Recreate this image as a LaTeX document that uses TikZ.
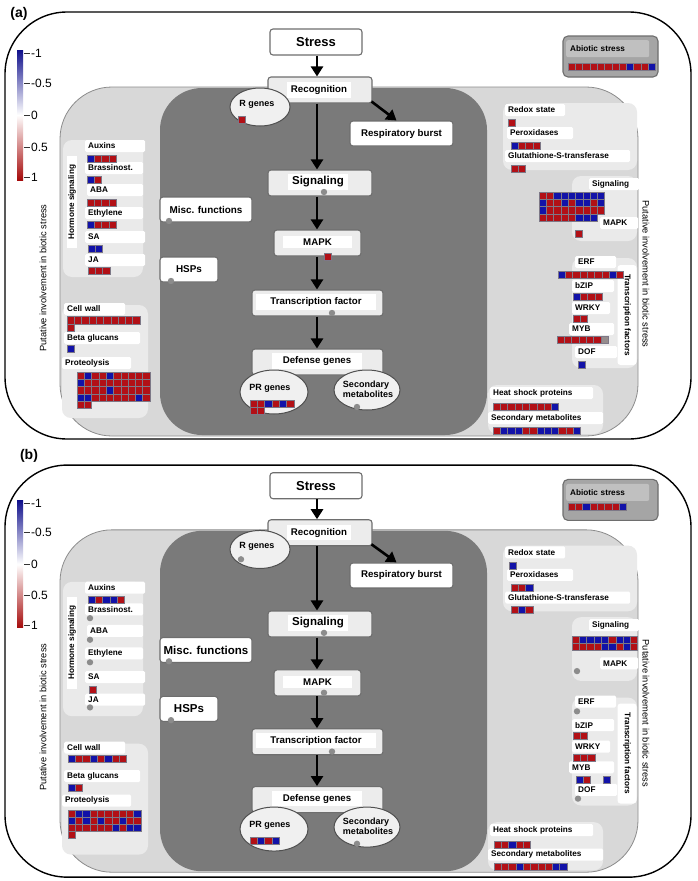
\documentclass[tikz,border=0pt]{standalone}
\usepackage{fontspec}
\setmainfont{Liberation Sans}
\usetikzlibrary{arrows.meta,shapes.geometric}

\definecolor{hr}{RGB}{178,16,22}
\definecolor{hb}{RGB}{18,18,168}
\definecolor{hg}{RGB}{150,140,140}
\definecolor{cellline}{RGB}{125,120,135}
\definecolor{dotgray}{RGB}{140,140,140}
\definecolor{zonelight}{RGB}{216,216,216}
\definecolor{zoneline}{RGB}{140,140,140}
\definecolor{zonedark}{RGB}{122,122,122}
\definecolor{panelfill}{RGB}{234,234,234}
\definecolor{boxfill}{RGB}{236,236,236}
\definecolor{boxline}{RGB}{110,110,110}
\definecolor{ovalfill}{RGB}{240,240,240}
\definecolor{ovalline}{RGB}{80,80,80}
\definecolor{abiofill}{RGB}{165,165,165}
\definecolor{abiostrip}{RGB}{192,192,192}
\definecolor{legblue}{RGB}{16,16,140}
\definecolor{legred}{RGB}{165,10,10}

\newcommand{\labfont}{\fontsize{8.2}{9}\selectfont\bfseries}
\newcommand{\flowfont}{\fontsize{9.7}{11}\selectfont\bfseries}
\newcommand{\sigfont}{\fontsize{11.5}{13}\selectfont\bfseries}
\newcommand{\stressfont}{\fontsize{13}{15}\selectfont\bfseries}
\newcommand{\ovalfont}{\fontsize{9}{10}\selectfont\bfseries}
\newcommand{\sidefont}{\fontsize{9.3}{11}\selectfont}
\newcommand{\legfont}{\fontsize{12}{14}\selectfont}

% one row of heat map cells: left x, top y, colours
\newcommand{\hcells}[3]{%
  \foreach \hc [count=\i from 0] in {#3}
    \filldraw[cell, fill=\hc] ({#1+\i*7.3},#2) rectangle +(7.3,7.3);}
% grey dot for a bin without data
\newcommand{\gdot}[2]{\fill[dotgray] (#1,#2) circle (3.2);}

\begin{document}
\begin{tikzpicture}[x=1pt, y=-1pt,
    outerbox/.style={draw=black, line width=1.4pt, fill=white, rounded corners=62pt},
    lightzone/.style={draw=zoneline, fill=zonelight, line width=0.8pt, rounded corners=52pt},
    darkzone/.style={fill=zonedark, rounded corners=42pt},
    subpanel/.style={fill=panelfill, rounded corners=9pt},
    flowbox/.style={draw=boxline, fill=boxfill, line width=1.1pt, rounded corners=3pt, inner sep=0pt},
    whitebox/.style={flowbox, fill=white, font=\flowfont},
    flowtag/.style={fill=white, font=\flowfont, inner xsep=4pt, inner ysep=3pt},
    oval/.style={ellipse, draw=ovalline, fill=ovalfill, line width=1pt, inner sep=0pt},
    ovaltxt/.style={font=\ovalfont, inner sep=0pt, align=left},
    tag/.style={fill=white, rounded corners=1.5pt, font=\labfont, inner xsep=3pt, inner ysep=0pt,
      minimum height=12pt, anchor=west, text width=#1pt, align=left},
    abiobox/.style={draw=boxline, fill=abiofill, line width=1.1pt, rounded corners=5pt, inner sep=0pt},
    abiotag/.style={fill=abiostrip, rounded corners=2pt, font=\labfont, inner xsep=4pt,
      minimum height=17pt, text width=75pt, align=left, anchor=north west},
    sidetxt/.style={font=\sidefont, rotate=#1},
    legtxt/.style={font=\legfont, anchor=west, inner sep=1pt},
    flow/.style={line width=2.6pt, -{Triangle[length=10pt, width=12pt]}},
    cell/.style={draw=cellline, line width=0.6pt}
  ]
\useasboundingbox (0,0) rectangle (697,881);

\node[font=\fontsize{14}{16}\selectfont\bfseries] (alab) at (19,14) {(a)};
\node[font=\fontsize{14}{16}\selectfont\bfseries] (blab) at (29,456) {(b)};

% common frame of both panels
\foreach \p/\dy/\sy/\top/\bot/\lg/\mf in {a/0/1/12/439/0/9.9, b/444.5/0.981/21/441/7/11.5} {
\begin{scope}[shift={(0,\dy)}, yscale=\sy]
  \draw[outerbox] (5,\top) rectangle (691,\bot);
  \draw[lightzone] (60,87) rectangle (638,436);
  \fill[darkzone] (160,88) rectangle (487,435);
  \fill[subpanel] (63,140) rectangle (143,277);
  \fill[subpanel] (62,305) rectangle (148,418);
  \fill[subpanel] (503,103) rectangle (637,170);
  \fill[subpanel] (572,176) rectangle (637,241);
  \fill[subpanel] (572,258) rectangle (637,368);
  \fill[subpanel] (488,385) rectangle (603,434);

  % legend
  \shade[top color=legblue, bottom color=legred, middle color=white] (17,50+\lg) rectangle (23,180+\lg);
  \foreach \v/\yy [count=\k] in {-1/53,-0.5/83,0/115,0.5/147,1/177} {
    \draw[line width=0.9pt, black!80] (24,\yy+\lg) -- (30,\yy+\lg);
    \node[legtxt] (\p leg\k) at (30,\yy+\lg) {\v};
  }

  \node[sidetxt=90] (\p lside) at (43,278) {Putative involvement in biotic stress};
  \node[sidetxt=-90] (\p rside) at (646,274) {Putative involvement in biotic stress};

  \node[abiobox, minimum width=95pt, minimum height=41pt] (\p abio) at (610.5,56.5) {};
  \node[abiotag] (\p abiot) at (566,40) {Abiotic stress};

  % pathway
  \coordinate (\p spine) at (317,0);
  \node[whitebox, minimum width=92pt, minimum height=26pt, font=\stressfont] (\p stress) at (316,42) {Stress};
  \node[flowbox, minimum width=104pt, minimum height=26pt] (\p recog) at (320,90) {};
  \node[flowtag] (\p recogt) at (319,90) {Recognition};
  \node[whitebox, minimum width=103pt, minimum height=25pt] (\p resp) at (401.5,133.5) {Respiratory burst};
  \node[flowbox, minimum width=104pt, minimum height=26pt] (\p signal) at (320,183) {};
  \node[flowtag, font=\sigfont] (\p signalt) at (318,182) {Signaling};
  \node[flowbox, minimum width=87pt, minimum height=26pt] (\p mapk) at (317.5,243) {};
  \node[flowtag, minimum width=69pt] (\p mapkt) at (317.5,242) {MAPK};
  \node[flowbox, minimum width=131pt, minimum height=26pt] (\p tf) at (317.5,303) {};
  \node[flowtag, minimum width=120pt] (\p tft) at (316,302) {Transcription factor};
  \node[flowbox, minimum width=131pt, minimum height=26pt] (\p def) at (317.5,362) {};
  \node[flowtag, minimum width=90pt] (\p deft) at (317,361) {Defense genes};

  \node[whitebox, minimum width=92pt, minimum height=25pt, font=\fontsize{\mf}{12}\selectfont\bfseries] (\p misc) at (206,209.5) {Misc. functions};
  \node[whitebox, minimum width=58pt, minimum height=25pt, font=\fontsize{\mf}{12}\selectfont\bfseries] (\p hsps) at (189,269.5) {HSPs};

  \node[oval, minimum width=60pt, minimum height=38pt] (\p rgen) at (260,107) {};
  \node[ovaltxt] (\p rgent) at (257,104) {R genes};
  \node[oval, minimum width=68pt, minimum height=44pt] (\p prg) at (274,392) {};
  \node[ovaltxt] (\p prgt) at (270,388) {PR genes};
  \node[oval, minimum width=66pt, minimum height=40pt] (\p smet) at (367,390) {};
  \node[ovaltxt] (\p smett) at (368,389) {Secondary\\metabolites};

  \draw[flow] (\p spine |- \p stress.south) -- (\p spine |- \p recog.north);
  \draw[flow] (\p spine |- \p recog.south) -- (\p spine |- \p signal.north);
  \draw[flow] (\p spine |- \p signal.south) -- (\p spine |- \p mapk.north);
  \draw[flow] (\p spine |- \p mapk.south) -- (\p spine |- \p tf.north);
  \draw[flow] (\p spine |- \p tf.south) -- (\p spine |- \p def.north);
  \draw[flow] ([xshift=-1pt, yshift=2pt]\p recog.south east) -- ([xshift=-5pt]\p resp.north);

  \gdot{324}{192}
  \gdot{332}{313}
  \gdot{357}{407}
  \gdot{169}{221}
  \gdot{171}{281}

  % bins on the left
  \node[sidetxt=90, font=\labfont, fill=white, minimum width=92pt, inner sep=1.5pt] (\p horm) at (72,202) {Hormone signaling};
  \node[tag=54] (\p aux) at (85,146) {Auxins};
  \node[tag=52] (\p bra) at (85,168) {Brassinost.};
  \node[tag=50] (\p aba) at (87,190) {ABA};
  \node[tag=52] (\p eth) at (85,213) {Ethylene};
  \node[tag=54] (\p sa) at (85,237) {SA};
  \node[tag=54] (\p ja) at (85,260) {JA};
  \node[tag=55] (\p cwall) at (64,309) {Cell wall};
  \node[tag=70] (\p beta) at (64,338) {Beta glucans};
  \node[tag=63] (\p prot) at (62,363) {Proteolysis};

  % bins on the right
  \node[tag=54] (\p redox) at (505,110) {Redox state};
  \node[tag=60] (\p perox) at (507,133) {Peroxidases};
  \node[tag=119] (\p gst) at (505,156) {Glutathione-S-transferase};
  \node[tag=44] (\p rsig) at (589,184) {Signaling};
  \node[tag=32] (\p rmapk) at (600,223) {MAPK};
  \node[tag=35] (\p erf) at (575,262) {ERF};
  \node[tag=36] (\p bzip) at (572,286) {bZIP};
  \node[tag=32] (\p wrky) at (572,308) {WRKY};
  \node[tag=39] (\p myb) at (569,329) {MYB};
  \node[tag=36] (\p dof) at (575,352) {DOF};
  \node[sidetxt=-90, font=\labfont, fill=white, minimum width=100pt, minimum height=19pt, rounded corners=3pt] (\p tfside) at (627,315) {Transcription factors};
  \node[tag=97] (\p heat) at (490,393) {Heat shock proteins};
  \node[tag=109] (\p smet2) at (488,418) {Secondary metabolites};
\end{scope}
}

% data of panel (a)
\begin{scope}
  \hcells{568}{63}{hr,hr,hr,hr,hr,hr,hr,hr,hb,hr,hr,hb}
  \hcells{238}{116}{hr}
  \hcells{324}{253}{hr}
  \hcells{250}{400}{hr,hr,hb,hr,hb,hr}
  \hcells{250}{407.3}{hr,hr}
  \hcells{87}{155}{hb,hr,hr,hr}
  \hcells{87}{176}{hb,hr}
  \hcells{87}{199}{hr,hr,hr,hr}
  \hcells{87}{221}{hb,hr,hr,hr}
  \hcells{88}{245}{hb,hb}
  \hcells{88}{267}{hr,hr,hr}
  \hcells{67}{316.7}{hr,hr,hr,hr,hr,hr,hr,hr,hr,hr}
  \hcells{67}{324}{hr}
  \hcells{67}{345}{hb}
  \hcells{77}{372}{hr,hb,hr,hr,hb,hr,hr,hr,hr,hr}
  \hcells{77}{379.3}{hb,hr,hr,hr,hr,hr,hr,hr,hr,hr}
  \hcells{77}{386.6}{hr,hr,hr,hr,hb,hr,hr,hr,hr,hr}
  \hcells{77}{393.9}{hb,hb,hr,hr,hr,hr,hr,hr,hb,hr}
  \hcells{77}{401.2}{hr,hr}
  \hcells{508}{119}{hr}
  \hcells{511}{142}{hb,hr,hr,hr}
  \hcells{511}{165}{hr,hr}
  \hcells{539}{192}{hr,hr,hb,hb,hb,hb,hb,hb,hb}
  \hcells{539}{199.3}{hb,hr,hr,hb,hr,hb,hb,hr,hb}
  \hcells{539}{206.6}{hb,hr,hr,hr,hr,hr,hr,hr,hr}
  \hcells{539}{213.9}{hr,hr,hr,hr,hr,hb,hb,hb}
  \hcells{575}{230}{hr}
  \hcells{558}{271}{hb,hr,hr,hr,hr,hr,hr,hb,hr}
  \hcells{573}{293}{hb,hr,hr,hr}
  \hcells{573}{315}{hr,hr}
  \hcells{557}{336}{hr,hr,hr,hr,hr,hr,hg}
  \hcells{578}{361}{hb}
  \hcells{493}{403}{hr,hr,hr,hr,hr,hr,hr,hr,hb}
  \hcells{493}{427}{hr,hb,hb,hb,hr,hr,hb,hb,hb,hr,hr,hb}
\end{scope}

% data of panel (b)
\begin{scope}[shift={(0,444.5)}, yscale=0.981]
  \hcells{568}{60}{hr,hr,hb,hr,hr,hr,hr,hb}
  \gdot{241}{117}
  \gdot{324}{253}
  \hcells{250}{400}{hr,hb,hr,hb}
  \hcells{88}{155}{hb,hr,hb,hb,hr}
  \gdot{90}{177}
  \gdot{90}{199}
  \gdot{90}{222}
  \hcells{89}{246}{hr}
  \gdot{90}{268}
  \hcells{68}{317}{hb,hr,hr,hb,hr,hb,hr,hr}
  \hcells{68}{346}{hb,hr}
  \hcells{68}{372.6}{hr,hb,hb,hr,hr,hr,hr,hr,hr,hb}
  \hcells{68}{379.9}{hb,hr,hb,hr,hb,hr,hr,hb,hr,hr}
  \hcells{68}{387.2}{hr,hr,hr,hr,hr,hr,hb,hr,hb,hb}
  \hcells{68}{394.5}{hr}
  \hcells{509}{120}{hb}
  \hcells{511}{142}{hr,hr,hb}
  \hcells{511}{165}{hr,hb,hr}
  \hcells{572}{195}{hr,hb,hb,hb,hb,hr,hb,hb,hr}
  \hcells{572}{202.3}{hr,hr,hr,hr,hb,hb,hr,hb,hr}
  \gdot{577}{231}
  \gdot{577}{272}
  \hcells{573}{293}{hr,hr}
  \hcells{573}{315.5}{hr,hr,hr}
  \hcells{576}{338}{hb,hr}
  \hcells{603}{338}{hb}
  \gdot{578}{361}
  \hcells{494}{404}{hr,hr,hb,hr,hr}
  \hcells{494}{427}{hr,hr,hr,hb,hr,hr,hr,hr,hb,hb}
\end{scope}
\end{tikzpicture}
\end{document}
